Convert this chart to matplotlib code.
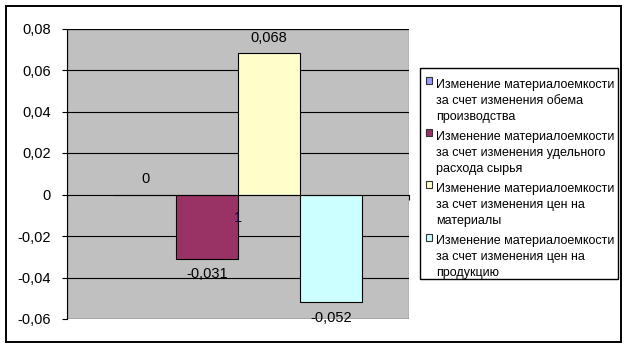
import matplotlib
matplotlib.use("Agg")
import matplotlib.pyplot as plt
from matplotlib.patches import Rectangle, Patch
from matplotlib.legend_handler import HandlerBase
from matplotlib.ticker import FixedLocator, FuncFormatter

plt.rcParams['font.family'] = ['Liberation Sans', 'DejaVu Sans']

categories = ['1']
series_names = [
    'Изменение материалоемкости\nза счет изменения обема\nпроизводства',
    'Изменение материалоемкости\nза счет изменения удельного\nрасхода сырья',
    'Изменение материалоемкости\nза счет изменения цен на\nматериалы',
    'Изменение материалоемкости\nза счет изменения цен на\nпродукцию',
]
values = [0.0, -0.031, 0.068, -0.052]
value_labels = ['0', '-0,031', '0,068', '-0,052']
colors = ['#9999FF', '#993366', '#FFFFCC', '#CCFFFF']
y_ticks = [-0.06, -0.04, -0.02, 0, 0.02, 0.04, 0.06, 0.08]

W, H = 629, 348
fig = plt.figure(figsize=(W / 100, H / 100), dpi=100)
fig.patch.set_facecolor('white')

# outer frame
fig.add_artist(Rectangle((5.5 / W, 1 - 342 / H), (621 - 5.5) / W, (342 - 5.5) / H,
                         transform=fig.transFigure, fill=False, edgecolor='black', lw=1.4))
# legend frame
fig.add_artist(Rectangle((419.5 / W, 1 - 279 / H), (618 - 419.5) / W, (279 - 68) / H,
                         transform=fig.transFigure, fill=False, edgecolor='black', lw=1.0))

ax = fig.add_axes([67 / W, 1 - 319 / H, (409 - 67) / W, (319 - 28.5) / H])
ax.set_xlim(-0.5, 0.5)
ax.set_ylim(-0.06, 0.08)
ax.set_facecolor('none')
ax.add_patch(Rectangle((0, 0), 1, 1, transform=ax.transAxes, facecolor='#C0C0C0',
                       edgecolor='#808080', lw=1.0, zorder=0))

for yv in y_ticks:
    if yv != 0:
        ax.axhline(yv, color='black', lw=0.8, zorder=1)

bw = 62 / 342
for i, (v, c, lab) in enumerate(zip(values, colors, value_labels)):
    x = (i - 1.5) * bw
    ax.bar(x, v, width=bw, color=c, edgecolor='black', lw=0.8, zorder=2)
    off = 11 if v >= 0 else -11
    ax.annotate(lab, (x, v), xytext=(0, off), textcoords='offset points',
                ha='center', va='center', fontsize=10.5, color='black', zorder=5)

for s in ['top', 'right']:
    ax.spines[s].set_visible(False)
ax.spines['left'].set_color('black')
ax.spines['left'].set_linewidth(0.8)
ax.spines['bottom'].set_position(('data', 0))
ax.spines['bottom'].set_color('black')
ax.spines['bottom'].set_linewidth(0.8)
ax.spines['bottom'].set_zorder(3)

ax.yaxis.set_major_locator(FixedLocator(y_ticks))
ax.yaxis.set_major_formatter(FuncFormatter(
    lambda v, p: '0' if abs(v) < 1e-9 else f'{v:.2f}'.replace('.', ',')))
ax.tick_params(axis='y', direction='out', length=3.6, width=0.8, pad=8,
               labelsize=10.5, colors='black')

ax.set_xticks([0])
ax.set_xticklabels(categories)
ax.set_xticks([-0.5, 0.5], minor=True)
ax.tick_params(axis='x', which='major', length=0, pad=12, labelsize=10.5, labelcolor='#000033')
ax.tick_params(axis='x', which='minor', direction='out', length=3.6, width=0.8)
ax.xaxis.set_zorder(6)


class TopSquare(HandlerBase):
    def create_artists(self, legend, orig_handle, xdescent, ydescent, width, height,
                       fontsize, trans):
        s = 5.0
        y0 = -ydescent + height - s + 6.5
        p = Rectangle((-xdescent, y0), s, s, facecolor=orig_handle.get_facecolor(),
                      edgecolor='#333333', lw=0.8, transform=trans)
        return [p]


handles = [Patch(facecolor=c) for c in colors]
leg = fig.legend(handles, series_names, loc='upper left',
                 bbox_to_anchor=(425.5 / W, 1 - 79 / H), frameon=False,
                 fontsize=9.0, handlelength=0.6, handleheight=3.4,
                 handletextpad=0.25, labelspacing=0.68, borderpad=0, borderaxespad=0,
                 handler_map={Patch: TopSquare()})
for t in leg.get_texts():
    t.set_linespacing(1.42)

fig.savefig('out.png', dpi=100)
